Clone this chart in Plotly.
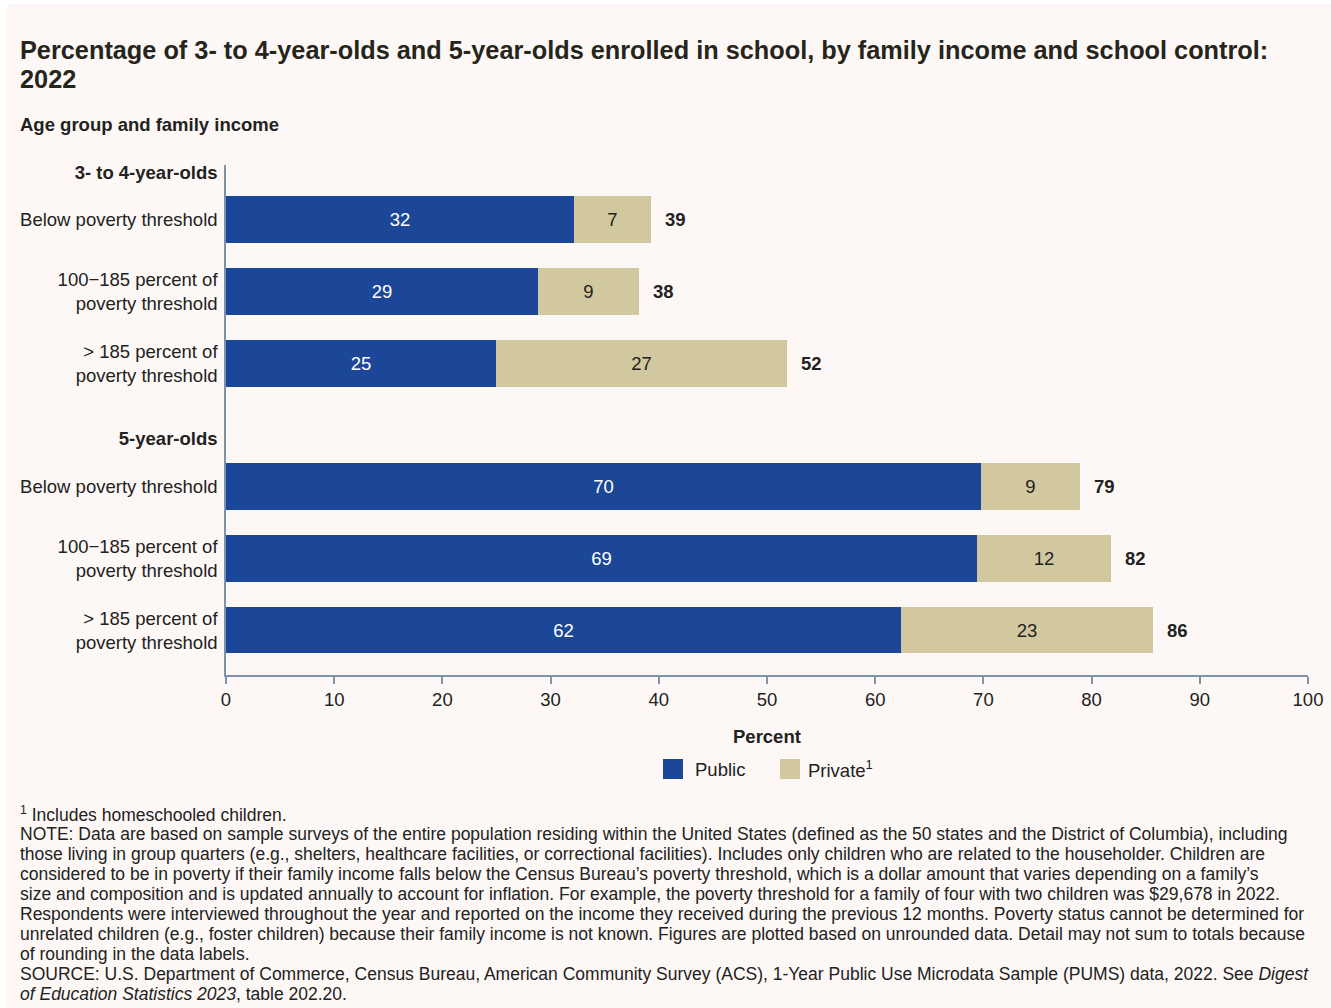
import plotly.graph_objects as go

# ---- data -------------------------------------------------------------
age_groups = ["3- to 4-year-olds", "5-year-olds"]
income_levels = [
    "Below poverty threshold",
    "100\u2212185 percent of<br>poverty threshold",
    "> 185 percent of<br>poverty threshold",
]
# unrounded estimates (percent), listed by age group then income level
public_pct = [32.16, 28.84, 24.95, 69.78, 69.41, 62.38]
private_pct = [7.12, 9.33, 26.90, 9.15, 12.38, 23.29]
series_names = ["Public", "Private<sup>1</sup>"]

# ---- styling ----------------------------------------------------------
BG = "#fdf8f5"
PUBLIC_C = "#1c4799"
PRIVATE_C = "#d2c89f"
AXIS_C = "#7d93ab"
TEXT_C = "#222222"
FONT = "Liberation Sans, Arial, sans-serif"
LBL = 18.5

W, H = 1331, 1008
L, R, T, B = 226, 23, 165, 333
PW, PH = W - L - R, H - T - B


def px_x(px):
    return (px - L) / PW


def px_y(py):
    return (H - B - py) / PH


# row positions: each group has a header row followed by its income rows
row_pos, tick_vals, tick_text = [], [], []
start = 0.0
for gi, grp in enumerate(age_groups):
    tick_vals.append(start - 0.66)
    tick_text.append(f"<b>{grp}</b>")
    for ri, lvl in enumerate(income_levels):
        row_pos.append(start + ri)
        tick_vals.append(start + ri)
        tick_text.append(lvl)
    start += len(income_levels) + 0.71

totals = [a + b for a, b in zip(public_pct, private_pct)]

fig = go.Figure()
fig.add_trace(go.Bar(
    y=row_pos, x=public_pct, orientation="h", name="Public",
    marker=dict(color=PUBLIC_C, line=dict(width=0)), width=0.65,
    text=[f"{v:.0f}" for v in public_pct], textposition="inside",
    insidetextanchor="middle", textangle=0,
    textfont=dict(color="white", size=LBL, family=FONT),
    showlegend=False, hoverinfo="skip",
))
fig.add_trace(go.Bar(
    y=row_pos, x=private_pct, orientation="h", name="Private",
    marker=dict(color=PRIVATE_C, line=dict(width=0)), width=0.65,
    text=[f"{v:.0f}" for v in private_pct], textposition="inside",
    insidetextanchor="middle", textangle=0,
    textfont=dict(color=TEXT_C, size=LBL, family=FONT),
    showlegend=False, hoverinfo="skip",
))

annotations = []
# totals at the end of each stacked bar
for y, tot in zip(row_pos, totals):
    annotations.append(dict(
        x=tot, y=y, xref="x", yref="y", text=f"<b>{tot:.0f}</b>",
        showarrow=False, xanchor="left", xshift=12,
        font=dict(size=LBL, color=TEXT_C, family=FONT),
    ))

title_lines = [
    "Percentage of 3- to 4-year-olds and 5-year-olds enrolled in school, "
    "by family income and school control:",
    "2022",
]
for i, line in enumerate(title_lines):
    annotations.append(dict(
        x=px_x(18), y=px_y(50 + 29 * i), xref="paper", yref="paper",
        xanchor="left", yanchor="middle", align="left", showarrow=False,
        text=f"<b>{line}</b>",
        font=dict(size=25.3, color="#26251c", family=FONT),
    ))
annotations.append(dict(
    x=px_x(18), y=px_y(124), xref="paper", yref="paper",
    xanchor="left", yanchor="middle", showarrow=False,
    text="<b>Age group and family income</b>",
    font=dict(size=LBL, color=TEXT_C, family=FONT),
))
annotations.append(dict(
    x=0.5, y=px_y(736), xref="paper", yref="paper",
    xanchor="center", yanchor="middle", showarrow=False,
    text="<b>Percent</b>",
    font=dict(size=LBL, color=TEXT_C, family=FONT),
))

# legend: square swatches with labels, centred under the axis
shapes = [dict(
    type="rect", xref="paper", yref="paper", layer="below",
    x0=px_x(7), x1=px_x(W), y0=px_y(H), y1=px_y(4),
    fillcolor=BG, line=dict(width=0),
)]
legend_x = [663, 780]
legend_gap = [30, 26]
for lx, gap, nm, col in zip(legend_x, legend_gap, series_names,
                            [PUBLIC_C, PRIVATE_C]):
    shapes.append(dict(
        type="rect", xref="paper", yref="paper",
        x0=px_x(lx), x1=px_x(lx + 20), y0=px_y(779), y1=px_y(759),
        fillcolor=col, line=dict(width=0),
    ))
    annotations.append(dict(
        x=px_x(lx + gap), y=px_y(769), xref="paper", yref="paper",
        xanchor="left", yanchor="middle", showarrow=False, text=nm,
        font=dict(size=LBL, color=TEXT_C, family=FONT),
    ))

notes = [
    "<sup>1</sup> Includes homeschooled children.",
    "NOTE: Data are based on sample surveys of the entire population residing within the United States (defined as the 50 states and the District of Columbia), including",
    "those living in group quarters (e.g., shelters, healthcare facilities, or correctional facilities). Includes only children who are related to the householder. Children are",
    "considered to be in poverty if their family income falls below the Census Bureau\u2019s poverty threshold, which is a dollar amount that varies depending on a family\u2019s",
    "size and composition and is updated annually to account for inflation. For example, the poverty threshold for a family of four with two children was $29,678 in 2022.",
    "Respondents were interviewed throughout the year and reported on the income they received during the previous 12 months. Poverty status cannot be determined for",
    "unrelated children (e.g., foster children) because their family income is not known. Figures are plotted based on unrounded data. Detail may not sum to totals because",
    "of rounding in the data labels.",
    "SOURCE: U.S. Department of Commerce, Census Bureau, American Community Survey (ACS), 1-Year Public Use Microdata Sample (PUMS) data, 2022. See <i>Digest</i>",
    "<i>of Education Statistics 2023</i>, table 202.20.",
]
for i, line in enumerate(notes):
    annotations.append(dict(
        x=px_x(18), y=px_y(814 + 20 * i), xref="paper", yref="paper",
        xanchor="left", yanchor="middle", align="left", showarrow=False,
        text=line, font=dict(size=17.5, color=TEXT_C, family=FONT),
    ))

fig.update_layout(
    width=W, height=H,
    margin=dict(l=L, r=R, t=T, b=B, autoexpand=False),
    paper_bgcolor="white", plot_bgcolor=BG,
    barmode="stack", bargap=0,
    font=dict(family=FONT, color=TEXT_C, size=LBL),
    showlegend=False,
    xaxis=dict(
        range=[0, 100], dtick=10, tick0=0,
        showgrid=False, zeroline=False,
        showline=True, linecolor=AXIS_C, linewidth=1.5,
        ticks="outside", ticklen=7, tickwidth=1.5, tickcolor=AXIS_C,
        tickfont=dict(size=LBL, color=TEXT_C),
        fixedrange=True,
    ),
    yaxis=dict(
        range=[6.335, -0.758],
        tickmode="array", tickvals=tick_vals, ticktext=tick_text,
        showgrid=False, zeroline=False,
        showline=True, linecolor=AXIS_C, linewidth=1.5,
        ticks="", ticklabelstandoff=3,
        tickfont=dict(size=LBL, color=TEXT_C),
        fixedrange=True,
    ),
    annotations=annotations,
    shapes=shapes,
)

fig.write_html("out.html")
